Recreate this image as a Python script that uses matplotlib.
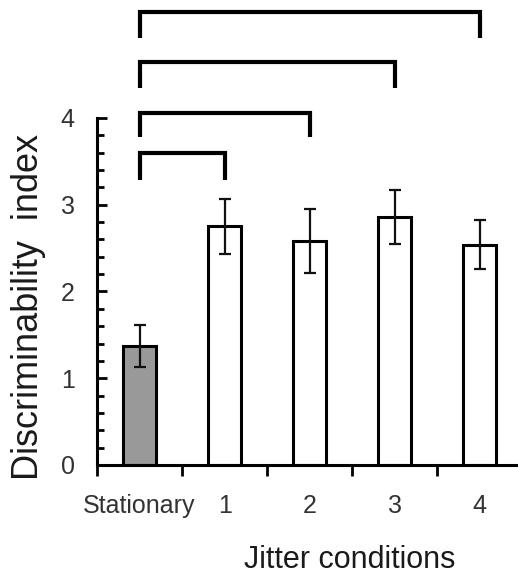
#!/usr/bin/env python3

import numpy as np
import matplotlib.pyplot as plt
from matplotlib import font_manager

'''
Discriminability index for the stationary and four jitter conditions,
with comparison brackets drawn above the bars.
'''

conditions = ["Stationary", "1", "2", "3", "4"]
means = [1.37, 2.75, 2.58, 2.86, 2.54]
errors = [0.24, 0.32, 0.37, 0.31, 0.28]
bar_colors = ["#999999", "white", "white", "white", "white"]

# brackets: (left index, right index, top height, foot height)
bracket_pairs = [(0, 1), (0, 2), (0, 3), (0, 4)]
bracket_tops = [3.60, 4.06, 4.65, 5.22]
bracket_feet = [3.29, 3.78, 4.35, 4.92]

plt.rcParams['font.family'] = ['Liberation Sans', 'DejaVu Sans']

#the reference text looks squeezed sideways, a narrow face is closest if present
installed = {f.name for f in font_manager.fontManager.ttflist}
if 'Liberation Sans Narrow' in installed:
	narrow = 'Liberation Sans Narrow'
	tick_size = 22
else:
	narrow = 'Liberation Sans'
	tick_size = 18

fig = plt.figure(figsize=(5.18, 5.77), dpi=100)
ax = fig.add_axes([97/518, 112/577, 421/518, 465/577])

x = np.arange(len(conditions))
ax.bar(x, means, width=0.39, color=bar_colors, edgecolor="black", linewidth=2.2, zorder=2)
ax.errorbar(x, means, yerr=errors, fmt="none", ecolor="#111111", elinewidth=1.6,
	capsize=4.3, capthick=1.6, zorder=3)

for (a, b), top, foot in zip(bracket_pairs, bracket_tops, bracket_feet):
	ax.plot([x[a], x[a], x[b], x[b]], [foot, top, top, foot], color="black",
		linewidth=3.0, solid_capstyle="butt", solid_joinstyle="miter", clip_on=False)

ax.set_xlim(-0.5, 4.45)
ax.set_ylim(0, 5.36)

for s in ["top", "right"]:
	ax.spines[s].set_visible(False)
ax.spines["left"].set_bounds(0, 4)
ax.spines["left"].set_linewidth(2.2)
ax.spines["bottom"].set_linewidth(2.2)

ax.set_yticks([0, 1, 2, 3, 4])
ax.set_yticks(np.arange(0, 4.01, 0.2), minor=True)
ax.tick_params(axis="y", which="major", direction="in", length=7, width=2, labelsize=tick_size,
	labelcolor="#333333", pad=16)
ax.tick_params(axis="y", which="minor", direction="in", length=5, width=2)

ax.set_xticks(np.arange(-0.5, 4.0, 1.0))
ax.set_xticklabels([])
ax.set_xticks(x, minor=True)
ax.set_xticklabels(conditions, minor=True)
ax.tick_params(axis="x", which="major", direction="out", length=8, width=2)
ax.tick_params(axis="x", which="minor", length=0, labelsize=tick_size, labelcolor="#333333", pad=21)

for lab in ax.get_xticklabels(minor=True) + ax.get_yticklabels():
	lab.set_family([narrow, 'DejaVu Sans'])

fig.text(29/518, 1 - 307/577, "Discriminability  index", rotation=90, fontsize=26,
	ha="center", va="center", color="#1a1a1a")
fig.text(350/518, 1 - 560/577, "Jitter conditions", fontsize=22,
	ha="center", va="center", color="#1a1a1a")

fig.savefig("out.png", dpi=100)
